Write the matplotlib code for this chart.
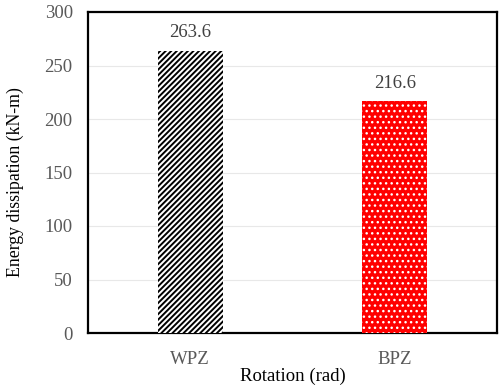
import matplotlib
matplotlib.use("Agg")
import matplotlib.pyplot as plt

categories = ["WPZ", "BPZ"]
values = [263.6, 216.6]
labels = ["263.6", "216.6"]

plt.rcParams['font.family'] = ['Liberation Serif', 'DejaVu Serif']
plt.rcParams['hatch.linewidth'] = 1.4

fig = plt.figure(figsize=(5.02, 3.87), dpi=100)
ax = fig.add_axes([88/502, 1-333/387, (497-88)/502, (333-12)/387])

x = list(range(len(categories)))
b1 = ax.bar(x[0], values[0], width=0.32, color='white', edgecolor='black', hatch='//////', linewidth=0, zorder=3)
b2 = ax.bar(x[1], values[1], width=0.32, color='#ff0000', edgecolor='white', hatch='...', linewidth=0, zorder=3)
for p in b2:
    try:
        p.set_hatch_linewidth(1.0)
    except Exception:
        pass

for xi, v, lab in zip(x, values, labels):
    ax.text(xi, v + 9, lab, ha='center', va='bottom', fontsize=13.5, color='#404040')

ax.set_xlim(-0.5, 1.5)
ax.set_ylim(0, 300)
ax.set_yticks(range(0, 301, 50))
ax.set_xticks(x)
ax.set_xticklabels(categories)
ax.tick_params(axis='both', length=0, labelsize=13.5, labelcolor='#595959')
ax.tick_params(axis='x', pad=13)
ax.tick_params(axis='y', pad=11)
ax.yaxis.grid(True, color='#e8e8e8', linewidth=0.8, zorder=0)
ax.set_axisbelow(True)
for s in ax.spines.values():
    s.set_linewidth(1.6)
    s.set_color('black')

ax.set_xlabel("Rotation (rad)", fontsize=13.5, labelpad=0)
ax.set_ylabel("Energy dissipation (kN-m)", fontsize=12.8)
ax.yaxis.set_label_coords(-(88-24)/409, (333-182)/321)

fig.savefig("out.png", dpi=100)
